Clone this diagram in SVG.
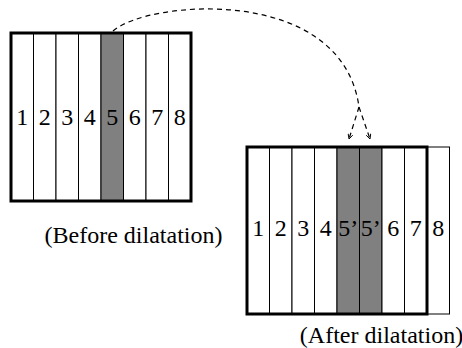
<svg xmlns="http://www.w3.org/2000/svg" width="462" height="348" viewBox="0 0 462 348">
  <style>
    .frame { fill: none; stroke: #000; stroke-width: 3; }
    .cell { fill: #fff; stroke: #000; stroke-width: 1; }
    .shade { fill: #808080; stroke: #000; stroke-width: 1; }
    text { font-family: 'Liberation Serif', serif; font-size: 24px; fill: #000; text-anchor: middle; }
    .dash { fill: none; stroke: #000; stroke-width: 1.2; stroke-dasharray: 5 4; }
  </style>
  <defs>
    <marker id="vhead" viewBox="0 0 10 10" refX="9" refY="5" markerWidth="6" markerHeight="6" orient="auto" markerUnits="userSpaceOnUse">
      <path d="M1,1 L9,5 L1,9" fill="none" stroke="#000" stroke-width="1.5"/>
    </marker>
  </defs>

  <rect width="462" height="348" fill="#fff"/>

  <!-- Strip before dilatation -->
  <g id="before" font-family="Liberation Serif, serif">
    <rect class="cell" x="11" y="33" width="22.5" height="168"/>
    <rect class="cell" x="33.5" y="33" width="22.5" height="168"/>
    <rect class="cell" x="56" y="33" width="22.5" height="168"/>
    <rect class="cell" x="78.5" y="33" width="22.5" height="168"/>
    <rect class="shade" x="101" y="33" width="22.5" height="168"/>
    <rect class="cell" x="123.5" y="33" width="22.5" height="168"/>
    <rect class="cell" x="146" y="33" width="22.5" height="168"/>
    <rect class="cell" x="168.5" y="33" width="22.5" height="168"/>
    <rect class="frame" x="11" y="33" width="180" height="168"/>
    <text x="22.25" y="125">1</text>
    <text x="44.75" y="125">2</text>
    <text x="67.25" y="125">3</text>
    <text x="89.75" y="125">4</text>
    <text x="112.25" y="125">5</text>
    <text x="134.75" y="125">6</text>
    <text x="157.25" y="125">7</text>
    <text x="179.75" y="125">8</text>
  </g>

  <!-- Strip after dilatation -->
  <g id="after" font-family="Liberation Serif, serif">
    <rect class="cell" x="247" y="147" width="22.5" height="167"/>
    <rect class="cell" x="269.5" y="147" width="22.5" height="167"/>
    <rect class="cell" x="292" y="147" width="22.5" height="167"/>
    <rect class="cell" x="314.5" y="147" width="22.5" height="167"/>
    <rect class="shade" x="337" y="147" width="22.5" height="167"/>
    <rect class="shade" x="359.5" y="147" width="22.5" height="167"/>
    <rect class="cell" x="382" y="147" width="22.5" height="167"/>
    <rect class="cell" x="404.5" y="147" width="22.5" height="167"/>
    <rect class="cell" x="427" y="147" width="22.5" height="167"/>
    <rect class="frame" x="247" y="147" width="180" height="167"/>
    <text x="258.25" y="236">1</text>
    <text x="280.75" y="236">2</text>
    <text x="303.25" y="236">3</text>
    <text x="325.75" y="236">4</text>
    <text x="348.25" y="236">5’</text>
    <text x="370.75" y="236">5’</text>
    <text x="393.25" y="236">6</text>
    <text x="415.75" y="236">7</text>
    <text x="438.25" y="236">8</text>
  </g>

  <!-- Captions -->
  <g id="captions" font-family="Liberation Serif, serif">
    <text x="133.5" y="243">(Before dilatation)</text>
    <text x="381.5" y="343">(After dilatation)</text>
  </g>

  <!-- Mapping of column 5 onto the two 5' columns -->
  <g id="connectors">
    <path class="dash" d="M113,31 C148,0 342,-16 359,107"/>
    <path class="dash" d="M359,107 L349,139" marker-end="url(#vhead)"/>
    <path class="dash" d="M359,107 L370,139" marker-end="url(#vhead)"/>
  </g>
</svg>
